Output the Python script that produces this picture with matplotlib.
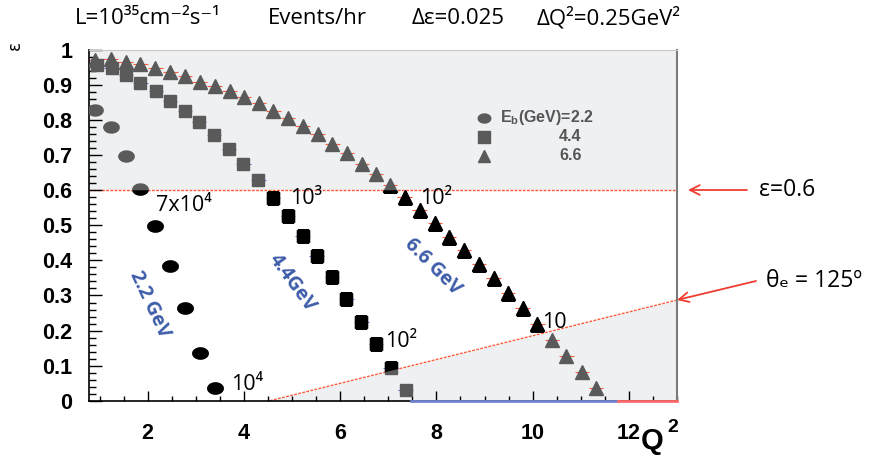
import numpy as np
import matplotlib
matplotlib.use("Agg")
import matplotlib.pyplot as plt
from matplotlib.path import Path
from matplotlib.patches import Polygon
from matplotlib.ticker import MultipleLocator, FixedLocator, FuncFormatter

plt.rcParams['mathtext.fontset'] = 'custom'
plt.rcParams['mathtext.rm'] = 'Liberation Sans:bold'

# epsilon vs Q2 for three beam energies
q2_22 = [0.91, 1.23, 1.54, 1.85, 2.16, 2.47, 2.78, 3.08, 3.39]
eps_22 = [0.829, 0.780, 0.698, 0.603, 0.498, 0.384, 0.263, 0.135, 0.035]

q2_44 = [0.94, 1.25, 1.55, 1.85, 2.17, 2.46, 2.77, 3.07, 3.38, 3.69, 3.99,
         4.30, 4.60, 4.92, 5.22, 5.51, 5.83, 6.13, 6.44, 6.74, 7.05, 7.36]
eps_44 = [0.957, 0.949, 0.929, 0.907, 0.883, 0.855, 0.827, 0.796, 0.758, 0.719, 0.675,
          0.629, 0.577, 0.527, 0.470, 0.413, 0.352, 0.290, 0.225, 0.161, 0.092, 0.031]

q2_66 = [0.91, 1.23, 1.54, 1.85, 2.16, 2.47, 2.78, 3.08, 3.39, 3.70, 4.00, 4.31,
         4.61, 4.92, 5.22, 5.53, 5.84, 6.14, 6.45, 6.75, 7.03, 7.34, 7.65, 7.97,
         8.26, 8.57, 8.89, 9.19, 9.49, 9.79, 10.10, 10.40, 10.70, 11.02, 11.32]
eps_66 = [0.971, 0.973, 0.967, 0.960, 0.948, 0.936, 0.926, 0.910, 0.897, 0.884, 0.865, 0.848,
          0.827, 0.807, 0.783, 0.760, 0.732, 0.705, 0.675, 0.646, 0.615, 0.580, 0.544, 0.508,
          0.468, 0.430, 0.389, 0.349, 0.306, 0.263, 0.219, 0.173, 0.128, 0.081, 0.035]

# event-rate labels: (text, q2, eps)
rate_labels = [("7x10⁴", 2.18, 0.558), ("10³", 4.96, 0.577), ("10²", 7.65, 0.577),
               ("10²", 6.93, 0.168), ("10", 10.2, 0.222), ("10⁴", 3.74, 0.045)]
# beam energy labels: (text, q2, eps, angle)
beam_labels = [("2.2 GeV", 2.05, 0.275, -65), ("4.4GeV", 5.0, 0.336, -54),
               ("6.6 GeV", 7.92, 0.381, -45)]

eps_cut = 0.6
theta_line_q2 = [4.54, 13.0]
theta_line_eps = [0.0, 0.287]
xmin, xmax = 0.78, 13.0

GRAY_BG = '#eef0f2'
GRAY_MK = '#5a5a5a'
RED = '#ff5a3c'
BLUE_TXT = '#3d5ca8'
TXT_FONT = ['Open Sans', 'DejaVu Sans']

fig = plt.figure(figsize=(8.7, 4.59), dpi=100)
ax = fig.add_axes([89/870, 1-400.7/459, 588/870, 350.7/459])
ax.set_xlim(xmin, xmax)
ax.set_ylim(0, 1)

# shaded regions: above eps cut and below the theta_e line
ax.axhspan(eps_cut, 1, color=GRAY_BG, zorder=0, lw=0)
ax.fill_between(theta_line_q2, theta_line_eps, 0, color=GRAY_BG, zorder=0, lw=0)
ax.axhline(eps_cut, color=RED, lw=1, ls=(0, (2, 1)), zorder=1)
ax.plot(theta_line_q2, theta_line_eps, color=RED, lw=1, ls=(0, (2, 1)), zorder=1)

# ellipse marker for the 2.2 GeV points
t = np.linspace(0, 2*np.pi, 60)
ellipse = Path(np.c_[np.cos(t), 0.72*np.sin(t)], closed=True)

series = [(q2_22, eps_22, ellipse, 11, '#222222'),
          (q2_44, eps_44, 's', 9, '#5a6fd0'),
          (q2_66, eps_66, '^', 10, RED)]

white = Polygon([(xmin, 0), (theta_line_q2[0], 0), (xmax, theta_line_eps[1]),
                 (xmax, eps_cut), (xmin, eps_cut)], closed=True,
                transform=ax.transData, fc='none', ec='none')
ax.add_patch(white)

for q, e, m, ms, ecol in series:
    ax.errorbar(q, e, xerr=0.15, fmt='none', ecolor=ecol, elinewidth=0.8, zorder=2)
    ax.plot(q, e, ls='none', marker=m, ms=ms, mfc=GRAY_MK, mec=GRAY_MK, zorder=3)
    blk, = ax.plot(q, e, ls='none', marker=m, ms=ms, mfc='black', mec='black', zorder=4)
    blk.set_clip_path(white)

for txt, x, y in rate_labels:
    ax.text(x, y, txt, fontsize=15.5, family=TXT_FONT,
            ha='left', va='center', zorder=5)
for txt, x, y, ang in beam_labels:
    ax.text(x, y, txt, fontsize=14, family=TXT_FONT,
            fontweight='bold', color=BLUE_TXT, rotation=ang,
            ha='center', va='center', rotation_mode='anchor', zorder=5)

# legend
leg_q = 8.99
ax.plot([leg_q], [0.806], ls='none', marker=ellipse, ms=9, color=GRAY_MK)
ax.plot([leg_q], [0.752], ls='none', marker='s', ms=8, color=GRAY_MK)
ax.plot([leg_q], [0.698], ls='none', marker='^', ms=8.5, color=GRAY_MK)
leg_kw = dict(fontsize=11.5, family='Liberation Sans', fontweight='bold', color='#555555',
              ha='left', va='center')
ax.text(9.32, 0.808, r"E$_{\mathrm{b}}$(GeV)=2.2", **leg_kw)
ax.text(10.55, 0.752, "4.4", **leg_kw)
ax.text(10.55, 0.700, "6.6", **leg_kw)

# axes styling
ax.xaxis.set_major_locator(FixedLocator([2, 4, 6, 8, 10, 12]))
ax.xaxis.set_minor_locator(MultipleLocator(0.5))
ax.yaxis.set_major_locator(MultipleLocator(0.1))
ax.yaxis.set_minor_locator(MultipleLocator(0.02))
ax.yaxis.set_major_formatter(FuncFormatter(
    lambda v, p: '0' if abs(v) < 1e-9 else ('1' if abs(v-1) < 1e-9 else f'{v:.1f}')))
ax.tick_params(which='both', direction='in', colors='black', width=1)
ax.tick_params(axis='x', which='major', length=7, pad=16)
ax.tick_params(axis='x', which='minor', length=3.5)
ax.tick_params(axis='y', which='major', length=9, pad=12)
ax.tick_params(axis='y', which='minor', length=5)
for lab in ax.get_xticklabels() + ax.get_yticklabels():
    lab.set_fontfamily('Liberation Sans')
    lab.set_fontweight('bold')
    lab.set_fontsize(15.5)
ax.spines['left'].set_linewidth(1.2)
ax.spines['bottom'].set_linewidth(1.2)
ax.spines['top'].set_color('#c8c8c8')
ax.spines['right'].set_color('#7a7a7a')
ax.spines['right'].set_linewidth(1.5)

# coloured stretches along the bottom axis
ax.plot([7.48, 11.77], [0, 0], color='#7184d4', lw=2, clip_on=False, zorder=6)
ax.plot([11.77, xmax], [0, 0], color='#ff6a6a', lw=2, clip_on=False, zorder=6)

# axis titles
fig.text(15/870, 1-45/459, "ε", fontsize=12, rotation=90, ha='center', va='center',
         family='DejaVu Sans')
fig.text(641/870, 1-441/459, "Q", fontsize=21, fontweight='bold', family='Liberation Sans',
         ha='left', va='center')
fig.text(667/870, 1-427/459, "2", fontsize=14, fontweight='bold', family='Liberation Sans',
         ha='left', va='center')

# header line
head_kw = dict(fontsize=16, family=TXT_FONT, ha='left', va='center')
fig.text(75/870, 1-18/459, "L=10³⁵cm⁻²s⁻¹", **head_kw)
fig.text(268/870, 1-18/459, "Events/hr", **head_kw)
fig.text(412/870, 1-18/459, "Δε=0.025", **head_kw)
fig.text(537/870, 1-18/459, "ΔQ²=0.25GeV²", **head_kw)

# side annotations
ann_kw = dict(xycoords='figure pixels', textcoords='figure pixels',
              arrowprops=dict(arrowstyle='->,head_length=0.7,head_width=0.35',
                              color='#f03c30', lw=1.3, shrinkA=0, shrinkB=0))
ax.annotate("", xy=(688, 459-190), xytext=(747, 459-190), **ann_kw)
ax.annotate("", xy=(677, 459-300), xytext=(756, 459-281), **ann_kw)
fig.text(759/870, 1-190/459, "ε=0.6", fontsize=16.5, family=TXT_FONT,
         ha='left', va='center')
fig.text(766/870, 1-281/459, "θₑ = 125º", fontsize=16.5, family=TXT_FONT,
         ha='left', va='center')

fig.savefig("out.png", dpi=100)
